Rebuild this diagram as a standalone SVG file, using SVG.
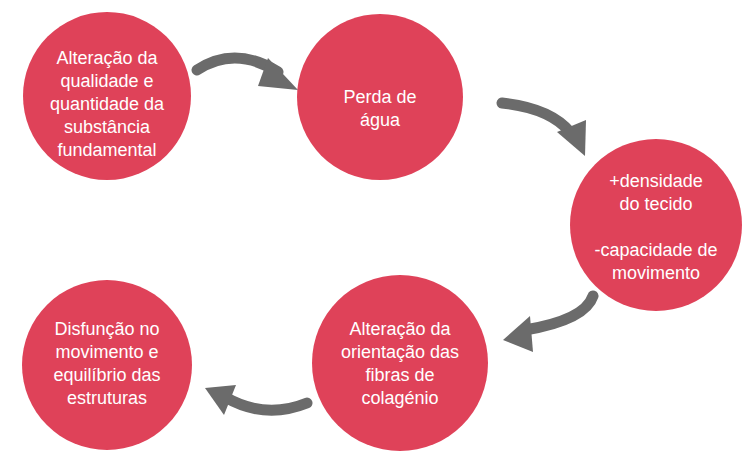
<svg xmlns="http://www.w3.org/2000/svg" width="750" height="470" viewBox="0 0 750 470">
<style>
.n{fill:#df4259}
.t{fill:#fff;font-family:"Liberation Sans",Arial,sans-serif;font-size:18px;text-anchor:middle}
.c{fill:none;stroke:#6b6b6b;stroke-width:11;stroke-linecap:round}
.h{fill:#6b6b6b}
</style>
<rect width="750" height="470" fill="#fff"/>
<g id="n1"><circle class="n" cx="107" cy="96" r="84"/>
<text class="t"><tspan x="107" y="64">Alteração da</tspan><tspan x="107" y="87">qualidade e</tspan><tspan x="107" y="110">quantidade da</tspan><tspan x="107" y="133">substância</tspan><tspan x="107" y="156">fundamental</tspan></text></g>
<g id="n2"><circle class="n" cx="380" cy="97" r="83"/>
<text class="t"><tspan x="380" y="103">Perda de</tspan><tspan x="380" y="126">água</tspan></text></g>
<g id="n3"><circle class="n" cx="656" cy="225" r="86"/>
<text class="t"><tspan x="656" y="187">+densidade</tspan><tspan x="656" y="210">do tecido</tspan><tspan x="656" y="256">-capacidade de</tspan><tspan x="656" y="279">movimento</tspan></text></g>
<g id="n4"><circle class="n" cx="400" cy="363" r="88"/>
<text class="t"><tspan x="400" y="335">Alteração da</tspan><tspan x="400" y="358">orientação das</tspan><tspan x="400" y="381">fibras de</tspan><tspan x="400" y="404">colagénio</tspan></text></g>
<g id="n5"><circle class="n" cx="107" cy="365" r="85"/>
<text class="t"><tspan x="107" y="335">Disfunção no</tspan><tspan x="107" y="358">movimento e</tspan><tspan x="107" y="381">equilíbrio das</tspan><tspan x="107" y="404">estruturas</tspan></text></g>
<g id="connectors">
<path class="c" d="M197 70 Q235 45 278 72"/><polygon class="h" points="268,58 298,90 258,86"/>
<path class="c" d="M502 103 Q550 108 570 132"/><polygon class="h" points="557,132 585,156 586,120"/>
<path class="c" d="M593 296 Q585 320 525 330"/><polygon class="h" points="530,316 503,340 533,352"/>
<path class="c" d="M307 403 Q265 420 225 397"/><polygon class="h" points="236,385 205,388 224,415"/>
</g>
</svg>
